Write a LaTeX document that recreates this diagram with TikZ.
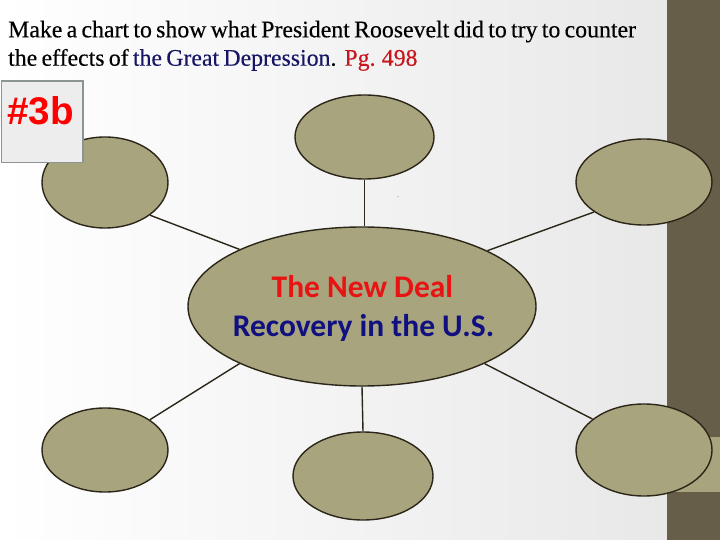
\documentclass[tikz,border=0pt]{standalone}
\usepackage{fontspec}
\setmainfont{Liberation Serif}
\newfontfamily\titlefont[WordSpace=0.72,FakeBold=0.3]{Liberation Serif}
\newfontfamily\slidefont{Carlito}
\newfontfamily\tagfont{Liberation Sans}
\usetikzlibrary{shapes.geometric,positioning}

\definecolor{barbrown}{RGB}{103,94,73}
\definecolor{khaki}{RGB}{168,164,126}
\definecolor{rimdark}{RGB}{43,38,24}
\definecolor{navytext}{RGB}{16,16,128}
\definecolor{titleblue}{RGB}{22,22,100}
\definecolor{pgred}{RGB}{200,22,30}
\definecolor{dealred}{RGB}{232,20,20}
\definecolor{boxgray}{RGB}{140,148,148}

\tikzset{
  bubble/.style={ellipse, draw=rimdark, fill=khaki, line width=1.4pt, inner sep=0pt},
  spoke/.style={draw=rimdark, line width=1.4pt},
  titletext/.style={anchor=base west, inner sep=0pt, font=\titlefont\fontsize{23.8}{28}\selectfont},
  dealtext/.style={anchor=base, inner sep=0pt, font=\slidefont\bfseries\fontsize{31.5}{38}\selectfont}
}

\begin{document}
\begin{tikzpicture}[x=1pt,y=-1pt]
\useasboundingbox (0,0) rectangle (720,540);
\shade[left color=white, right color=black!9] (0,0) rectangle (667,540);
\fill[barbrown] (667,0) rectangle (720,540);
\fill[khaki] (667,437) rectangle (720,492);

\node[titletext] (title1) at (8,37.3) {Make a chart to show what President Roosevelt did to try to counter};
\node[titletext] (title2) at (8,65.7) {the effects of \textcolor{titleblue}{the Great Depression}.\hspace{8pt}\textcolor{pgred}{Pg. 498}};

\node[bubble, minimum width=126pt, minimum height=91pt] (tl) at (105,182.5) {};
\node[bubble, minimum width=139pt, minimum height=84pt] (tc) at (364.5,137) {};
\node[bubble, minimum width=136pt, minimum height=86pt] (tr) at (644,182) {};
\node[bubble, minimum width=348pt, minimum height=159pt] (ctr) at (362,306.5) {};
\node[bubble, minimum width=126pt, minimum height=84pt] (bl) at (105,450) {};
\node[bubble, minimum width=140pt, minimum height=88pt] (bc) at (363,476) {};
\node[bubble, minimum width=136pt, minimum height=92pt] (br) at (644,450) {};

\draw[spoke] (tl.-36) -- (ctr.155);
\draw[spoke] (tc.south) -- (tc.south |- ctr.north);
\draw[spoke] (ctr.24) -- (tr.211);
\draw[spoke] (bl.34) -- (ctr.205);
\draw[spoke] (ctr.south) -- (bc.north);
\draw[spoke] (ctr.-25) -- (br.149);

\node[dealtext, text=dealred] (deal) at (362.5,297.3) {The New Deal};
\node[dealtext, text=navytext] (recovery) at (363.5,336.7) {Recovery in the U.S.};
\node[anchor=base, inner sep=0pt, text=black!70, font=\fontsize{8}{8}\selectfont] (speck) at (398,198) {.};

\node[draw=boxgray, fill=black!7, line width=1.3pt, anchor=north west, minimum width=81.5pt, minimum height=81.5pt, inner sep=0pt] (tag) at (0.7,80.3) {};
\node[anchor=base west, inner sep=0pt, text=red, font=\tagfont\bfseries\fontsize{38.6}{40}\selectfont] (tagtext) at (7,124.3) {\#3b};
\end{tikzpicture}
\end{document}
